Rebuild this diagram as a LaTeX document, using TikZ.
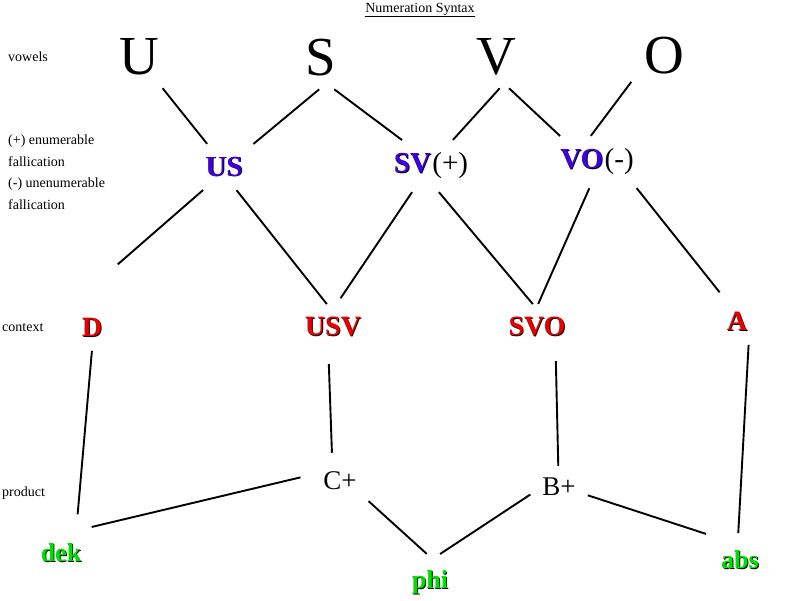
\documentclass[tikz,border=0pt]{standalone}
\usepackage{fontspec}
\setmainfont{Liberation Serif}
\definecolor{pairblue}{RGB}{64,0,224}
\definecolor{ctxred}{RGB}{232,0,0}
\definecolor{leafgreen}{RGB}{0,224,0}
\newcommand{\shadowed}[2]{\rlap{\hspace{0.9pt}\raisebox{-0.9pt}{\color{black}#2}}{\color{#1}#2}}

\begin{document}
\begin{tikzpicture}
	[x=1pt, y=-1pt, inner sep=0pt,
	vowel/.style	= {inner sep=12pt, font=\fontsize{55}{57}\selectfont},
	pair/.style	= {inner sep=12pt, font=\fontsize{29}{31}\selectfont},
	ctx/.style	= {inner sep=12pt, font=\fontsize{28}{30}\selectfont\bfseries},
	product/.style	= {inner sep=11pt, font=\fontsize{27}{29}\selectfont},
	leaf/.style	= {inner sep=16pt, font=\fontsize{26}{28}\selectfont\bfseries},
	side/.style	= {anchor=west, font=\fontsize{14}{21.5}\selectfont},
	paths/.style	= {line width=1.9pt, shorten >= 1pt, shorten <= 1pt}]
	
	\useasboundingbox (0,0) rectangle (800,600);
	
	\node at (420,10)	[side, anchor=center]	(title)	{\underline{Numeration Syntax}};
	\node at (8,57)		[side]	(lvowels)	{vowels};
	\node at (8,172)	[side, align=left]	(lfall)	{(+) enumerable\\ fallication\\ (-) unenumerable\\ fallication};
	\node at (2,328)	[side]	(lcontext)	{context};
	\node at (2,493)	[side]	(lproduct)	{product};
	
	\node at (139,57)	[vowel]	(u)	{U};
	\node at (321,58)	[vowel]	(s)	{S};
	\node at (496,57)	[vowel]	(v)	{V};
	\node at (664,56)	[vowel]	(o)	{O};
	
	\node at (224,167)	[pair]	(us)	{\shadowed{pairblue}{\textbf{US}}};
	\node at (431,166)	[pair]	(sv)	{\shadowed{pairblue}{\textbf{SV}}\kern1.5pt(+)};
	\node at (597,162)	[pair]	(vo)	{\shadowed{pairblue}{\textbf{VO}}\kern1.5pt(-)};
	
	\node at (92,328)	[ctx]	(d)	{\shadowed{ctxred}{D}};
	\node at (333,327)	[ctx]	(usv)	{\shadowed{ctxred}{USV}};
	\node at (537,327)	[ctx]	(svo)	{\shadowed{ctxred}{SVO}};
	\node at (737,322)	[ctx]	(a)	{\shadowed{ctxred}{A}};
	
	\node at (340,481)	[product]	(cplus)	{C+};
	\node at (559,487)	[product]	(bplus)	{B+};
	
	\node at (61,553)	[leaf]	(dek)	{\shadowed{leafgreen}{dek}};
	\node at (430,583)	[leaf]	(phi)	{\shadowed{leafgreen}{phi}};
	\node at (740,560)	[leaf]	(abs)	{\shadowed{leafgreen}{abs}};
	
	\coordinate (loose) at (117,265);
	
	\draw [paths] (u.-53) -- (us.126);
	\draw [paths] (s.-92) -- (us.38);
	\draw [paths] (s.-68) -- (sv.138);
	\draw [paths] (v.-82) -- (sv.50);
	\draw [paths] (v.-68) -- (vo.145);
	\draw [paths] (o.-142) -- (vo.105);
	
	\draw [paths] (us.-132) -- (loose);
	\draw [paths] (us.-62) -- (usv.104);
	\draw [paths, shorten >= 8pt] (sv.-126) -- (usv.82);
	\draw [paths] (sv.-74) -- (svo.99);
	\draw [paths] (vo.-106) -- (svo.88);
	\draw [paths, shorten >= 10pt] (vo.-33) -- (a.117);
	
	\draw [paths, shorten >= 13pt] (d.-90) -- (dek.59);
	\draw [paths, shorten <= 15pt, shorten >= 8pt] (usv.-102) -- (cplus.111);
	\draw [paths, shorten <= 12pt] (svo.-50) -- (bplus.92);
	\draw [paths] (a.-62) -- (abs.94);
	
	\draw [paths, shorten <= 12pt] (cplus.167) -- (dek.41);
	\draw [paths] (cplus.-35) -- (phi.95);
	\draw [paths] (bplus.-166) -- (phi.72);
	\draw [paths] (bplus.-16) -- (abs.142);
	
\end{tikzpicture}
\end{document}
